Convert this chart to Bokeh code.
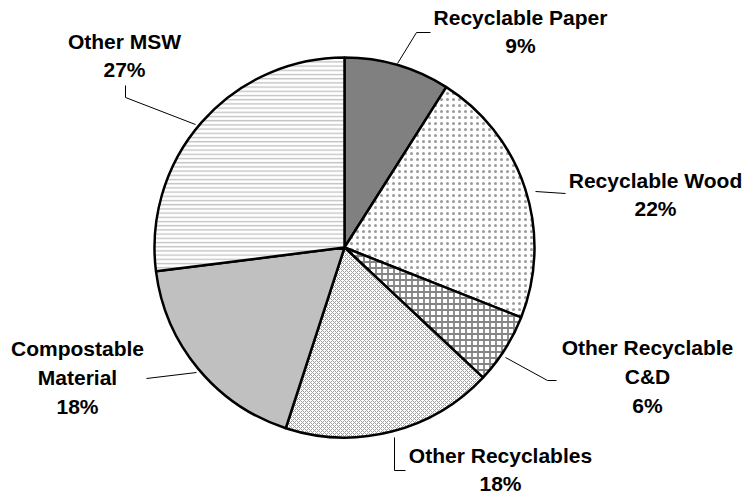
import math
from bokeh.plotting import figure
from bokeh.models import Range1d
from bokeh.core.properties import value
from bokeh.embed import file_html
from bokeh.resources import INLINE

# ---- data ----
categories = ["Recyclable Paper", "Recyclable Wood", "Other Recyclable\nC&D",
              "Other Recyclables", "Compostable\nMaterial", "Other MSW"]
shares = [9, 22, 6, 18, 18, 27]

# ---- styles ----
fills = ["#808080", "#ffffff", "#ffffff", "#ffffff", "#c0c0c0", "#ffffff"]
hatches = [" ", "dot", "cross", "diagonal_cross", " ", "horizontal_line"]
hatch_colors = ["#808080", "#9a9a9a", "#858585", "#9c9c9c", "#c0c0c0", "#c4c4c4"]
hatch_scales = [6, 6, 6, 4, 6, 4.2]
hatch_weights = [1, 1.3, 1.8, 1.0, 1, 1.4]

W, H = 744, 495
CX, CY, R = 344, 247, 190  # pixel coords (y from top)

def fy(y):
    return H - y

# label block centres (pixel coords) and leader paths
label_pos = [(520, 31), (655, 194), (647, 376), (500, 469), (77, 377), (124, 55)]
leaders = [
    [(397, 63), (416, 32), (430, 32)],
    [(535, 191), (565, 193)],
    [(505, 357), (547, 380), (556, 380)],
    [(394, 437), (394, 470), (405, 470)],
    [(196, 372), (146, 378)],
    [(195, 124), (125, 97), (125, 85)],
]

p = figure(width=W, height=H, output_backend="svg", toolbar_location=None,
           x_range=Range1d(0, W), y_range=Range1d(0, H), min_border=0)
p.axis.visible = False
p.grid.visible = False
p.outline_line_color = None
p.background_fill_color = "white"
p.border_fill_color = "white"

total = sum(shares)
cum = 0
for i, s in enumerate(shares):
    a0 = math.pi / 2 - 2 * math.pi * cum / total
    cum += s
    a1 = math.pi / 2 - 2 * math.pi * cum / total
    p.wedge(x=CX, y=fy(CY), radius=R, start_angle=a0, end_angle=a1,
            direction="clock", fill_color=fills[i], hatch_pattern=hatches[i],
            hatch_color=hatch_colors[i], hatch_scale=hatch_scales[i],
            hatch_weight=hatch_weights[i], line_color="black", line_width=2.5)

for path in leaders:
    p.line([q[0] for q in path], [fy(q[1]) for q in path], line_color="black",
           line_width=1)

texts = [f"{c}\n{s}%" for c, s in zip(categories, shares)]
p.text(x=[q[0] for q in label_pos], y=[fy(q[1]) for q in label_pos], text=texts,
       text_font=value("Liberation Sans"), text_font_style="bold",
       text_font_size="21px", text_align="center", text_baseline="middle",
       text_line_height=1.25, text_color="black")

open("out.html", "w").write(file_html(p, INLINE))
